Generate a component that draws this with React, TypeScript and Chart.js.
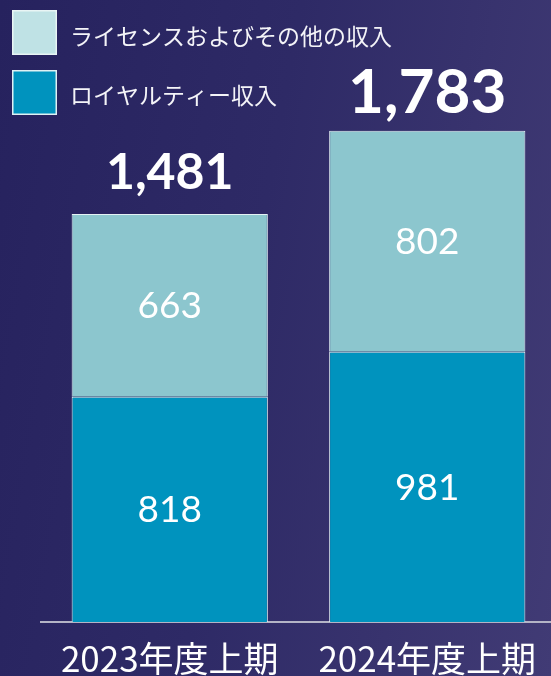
import React, { useEffect, useRef } from "react";
import { Chart, registerables } from "chart.js";

Chart.register(...registerables);

const categories = ["2023年度上期", "2024年度上期"];
const seriesNames = ["ライセンスおよびその他の収入", "ロイヤルティー収入"];
const royaltyRevenue = [818, 981];
const licenseOtherRevenue = [663, 802];
const totals = [1481, 1783];
const yMax = 2000;

const COLOR_LICENSE_BAR = "#8cc6ce";
const COLOR_LICENSE_LEGEND = "#bfe2e5";
const COLOR_ROYALTY = "#0093be";
const BAR_BORDER = "#e4f2f4";
const totalFontSizes = [50, 62];
const totalOffsets = [25, 18];

export default function App() {
  const ref = useRef<HTMLCanvasElement | null>(null);

  useEffect(() => {
    if (!ref.current) return;
    const labelsPlugin = {
      id: "customLabels",
      afterDatasetsDraw(chart: any) {
        const ctx = chart.ctx;
        ctx.save();
        ctx.fillStyle = "#ffffff";
        ctx.textAlign = "center";
        ctx.textBaseline = "alphabetic";
        chart.data.datasets.forEach((ds: any, di: number) => {
          const meta = chart.getDatasetMeta(di);
          meta.data.forEach((el: any, i: number) => {
            const cy = (el.y + el.base) / 2;
            ctx.font = "400 37px Lato";
            ctx.fillText(String(ds.data[i]), el.x, cy + 13);
          });
        });
        const topMeta = chart.getDatasetMeta(chart.data.datasets.length - 1);
        topMeta.data.forEach((el: any, i: number) => {
          ctx.font = `700 ${totalFontSizes[i]}px Lato`;
          ctx.fillText(totals[i].toLocaleString("en-US"), el.x, el.y - totalOffsets[i]);
        });
        ctx.restore();
      },
      afterDraw(chart: any) {
        const ctx = chart.ctx;
        ctx.save();
        const fills = [COLOR_LICENSE_LEGEND, COLOR_ROYALTY];
        const ys = [10, 70];
        const textYs = [36, 95];
        seriesNames.forEach((name, i) => {
          ctx.fillStyle = fills[i];
          ctx.fillRect(12, ys[i], 45, 45);
          ctx.strokeStyle = "rgba(235,245,246,0.95)";
          ctx.lineWidth = 1.5;
          ctx.strokeRect(12.75, ys[i] + 0.75, 43.5, 43.5);
          ctx.fillStyle = "#f4f4f8";
          ctx.font = "400 23px 'Noto Sans CJK JP'";
          ctx.textAlign = "left";
          ctx.textBaseline = "middle";
          ctx.fillText(name, 70, textYs[i]);
        });
        ctx.restore();
      },
    };

    const chart = new Chart(ref.current, {
      type: "bar",
      data: {
        labels: categories,
        datasets: [
          {
            label: seriesNames[1],
            data: royaltyRevenue,
            backgroundColor: COLOR_ROYALTY,
            borderColor: BAR_BORDER,
            borderWidth: 1,
            categoryPercentage: 1,
            barPercentage: 0.762,
          },
          {
            label: seriesNames[0],
            data: licenseOtherRevenue,
            backgroundColor: COLOR_LICENSE_BAR,
            borderColor: BAR_BORDER,
            borderWidth: 1,
            categoryPercentage: 1,
            barPercentage: 0.762,
          },
        ],
      },
      options: {
        responsive: false,
        animation: false,
        layout: { padding: { top: 71, left: 41, right: 1, bottom: -20 } },
        plugins: { legend: { display: false }, tooltip: { enabled: false } },
        scales: {
          x: {
            stacked: true,
            grid: { display: false, drawTicks: false },
            border: { display: true, color: "#b4b4c6", width: 2 },
            ticks: {
              color: "#ffffff",
              padding: 20,
              font: { family: "'Noto Sans CJK JP'", size: 35, weight: "400", lineHeight: "34px" },
            },
          },
          y: {
            stacked: true,
            display: false,
            min: 0,
            max: yMax,
          },
        },
      },
      plugins: [labelsPlugin],
    });
    return () => chart.destroy();
  }, []);

  return (
    <div
      style={{
        position: "absolute",
        left: 0,
        top: 0,
        width: 551,
        height: 676,
        overflow: "hidden",
        background: "linear-gradient(100deg, #26225e 0%, #2e2a66 45%, #413b75 100%)",
      }}
    >
      <canvas ref={ref} width={557} height={676} style={{ display: "block" }} />
    </div>
  );
}
